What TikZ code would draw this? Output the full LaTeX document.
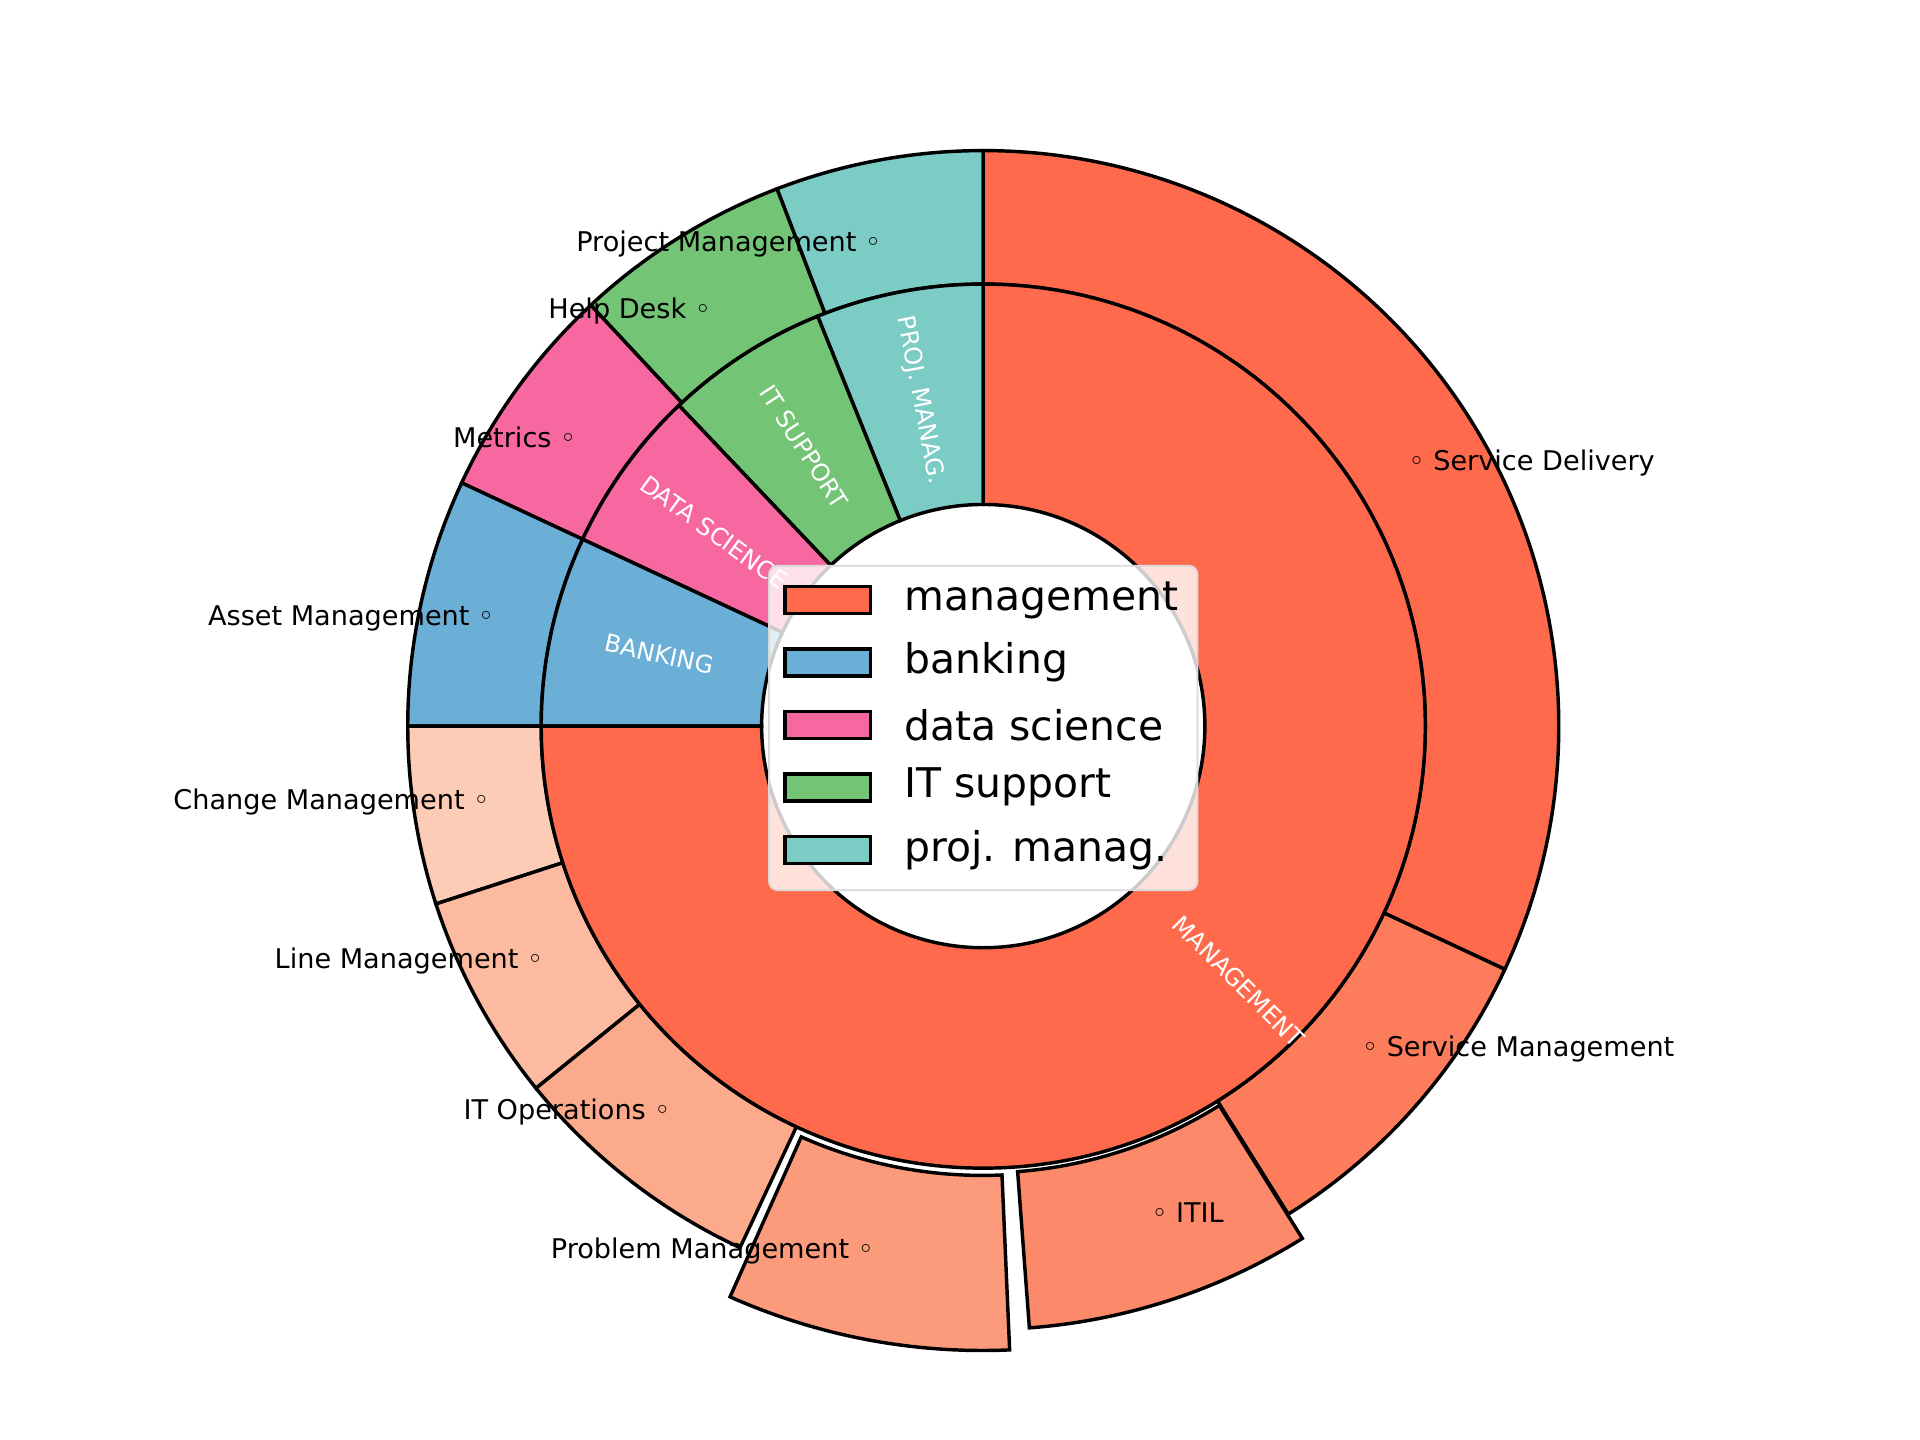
\documentclass[tikz,border=0pt]{standalone}
\usepackage{fontspec}
\setmainfont{DejaVu Sans}
\definecolor{mgmt}{HTML}{FF6A4D}
\definecolor{bank}{HTML}{6BAED6}
\definecolor{dsci}{HTML}{F768A1}
\definecolor{itsup}{HTML}{74C476}
\definecolor{pman}{HTML}{7BCCC4}
\definecolor{sman}{HTML}{FC7C5C}
\definecolor{itil}{HTML}{FC8A6A}
\definecolor{prob}{HTML}{FC9A7C}
\definecolor{itop}{HTML}{FCAA8C}
\definecolor{lman}{HTML}{FCBBA0}
\definecolor{chman}{HTML}{FCCCB6}
\newcommand{\ringseg}[5]{%
  \filldraw[seg,fill=#5] (#3:#2) arc[start angle=#3,end angle=#4,radius=#2] -- (#4:#1) arc[start angle=#4,end angle=#3,radius=#1] -- cycle;}
\begin{document}
\begin{tikzpicture}[x=0.01cm,y=0.01cm,font=\fontsize{6.3}{8}\selectfont,
	seg/.style={line width=0.8pt,line join=miter},
	inlab/.style={text=white,font=\fontsize{5.6}{7}\selectfont},
	leglab/.style={anchor=west,font=\fontsize{9.5}{11}\selectfont}]
	\useasboundingbox (0,0) rectangle (1568,1176);
	\begin{scope}[shift={(803,583)}]
		% outer ring
		\foreach \a/\b/\c in {90/111/pman,111/133/itsup,133/155/dsci,155/180/bank,180/198/chman,198/219/lman,219/245/itop,335/450/mgmt,302/335/sman}{
			\ringseg{361}{470}{\a}{\b}{\c}
		}
		\begin{scope}[shift={(259:3)}]
			\ringseg{364}{507}{246}{272.5}{prob}
		\end{scope}
		\begin{scope}[shift={(288:3)}]
			\ringseg{362}{490}{274.3}{302}{itil}
		\end{scope}
		% inner ring
		\foreach \a/\b/\c in {90/112/pman,112/133.5/itsup,133.5/155/dsci,155/180/bank,180/450/mgmt}{
			\ringseg{181}{361}{\a}{\b}{\c}
		}
		\node[inlab,rotate=-79] (tpm) at (101:271) {PROJ. MANAG.};
		\node[inlab,rotate=-57] (tit) at (122.75:271) {IT SUPPORT};
		\node[inlab,rotate=-36] (tds) at (144.25:271) {DATA SCIENCE};
		\node[inlab,rotate=-12.5] (tbk) at (167.5:271) {BANKING};
		\node[inlab,rotate=-45] (tmg) at (315:295) {MANAGEMENT};
	\end{scope}
	% outer labels
	\node[anchor=west] (lsd) at (1138,798) {◦ Service Delivery};
	\node[anchor=west] (lsm) at (1100,319) {◦ Service Management};
	\node[anchor=west] (lit) at (928,186) {◦ ITIL};
	\node[anchor=east] (lpm) at (726,154) {Problem Management ◦};
	\node[anchor=east] (lio) at (560,268) {IT Operations ◦};
	\node[anchor=east] (llm) at (456,391) {Line Management ◦};
	\node[anchor=east] (lcm) at (412,521) {Change Management ◦};
	\node[anchor=east] (lam) at (416,671) {Asset Management ◦};
	\node[anchor=east] (lme) at (483,819) {Metrics ◦};
	\node[anchor=east] (lhd) at (593,922) {Help Desk ◦};
	\node[anchor=east] (lpj) at (732,977) {Project Management ◦};
	% legend
	\filldraw[draw=black!15,fill=white,fill opacity=0.8,rounded corners=2pt] (628,449) rectangle (978,714);
	\foreach \c/\t [count=\i from 0] in {mgmt/management,bank/banking,dsci/data science,itsup/IT support,pman/proj. manag.}{
		\filldraw[seg,fill=\c] (641,675-\i*51) rectangle (711,697-\i*51);
		\node[leglab] (leg\i) at (726,686-\i*51) {\t};
	}
\end{tikzpicture}
\end{document}
